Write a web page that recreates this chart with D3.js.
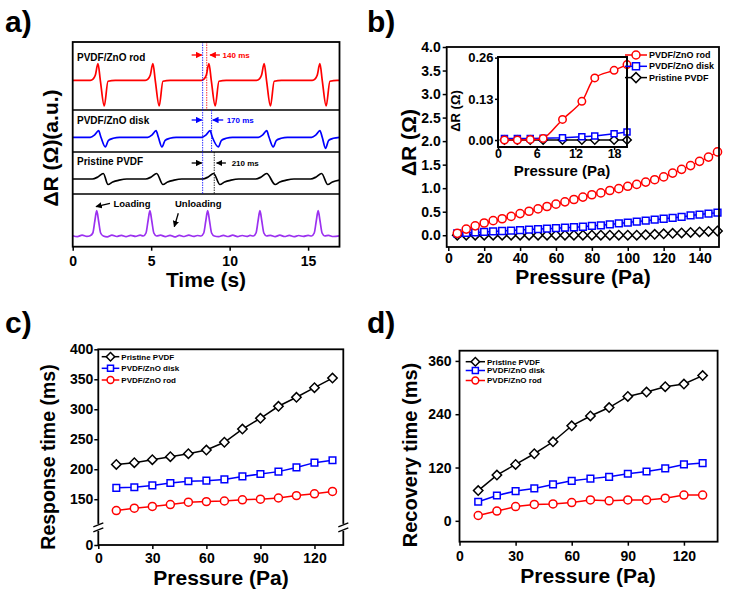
<!DOCTYPE html>
<html>
<head>
<meta charset="utf-8">
<script src="https://cdn.jsdelivr.net/npm/d3@7"></script>
<style>
  body { margin: 0; background: #fff; }
  svg { font-family: Arial, "Liberation Sans", sans-serif; font-weight: bold; }
</style>
</head>
<body>
<div id="chart"></div>
<script>
// ---- DATA -------------------------------------------------------------
// a) time traces, [time (s), signal (a.u.)]
const timeTicks = [0, 5, 10, 15];
const rodTrace = [[0,0],[1.12,0],[1.31,1.5],[1.44,5],[1.61,16.6],[1.76,0],[2.01,-25.7],[2.25,-1],[2.71,0],
  [4.62,0],[4.81,1.5],[4.94,5],[5.11,16.6],[5.26,0],[5.51,-25.7],[5.75,-1],[6.21,0],
  [8.19,0],[8.38,1.5],[8.51,5],[8.68,16.6],[8.83,0],[9.08,-25.7],[9.32,-1],[9.78,0],
  [11.71,0],[11.9,1.5],[12.03,5],[12.2,16.6],[12.35,0],[12.6,-25.7],[12.84,-1],[13.3,0],
  [15.26,0],[15.45,1.5],[15.58,5],[15.75,16.6],[15.9,0],[16.15,-25.7],[16.39,-1],[16.85,0],[17,0]];
const diskTrace = [[0,0],[1.12,0],[1.4,2.5],[1.65,6.6],[1.8,0],[2.08,-9.7],[2.28,-3],[2.58,-1],[2.98,0],
  [4.78,0],[5.06,2.5],[5.31,6.6],[5.46,0],[5.69,-9.7],[5.89,-3],[6.19,-1],[6.59,0],
  [8.22,0],[8.5,2.5],[8.75,6.6],[8.9,0],[9.28,-9.7],[9.48,-3],[9.78,-1],[10.18,0],
  [11.83,0],[12.11,2.5],[12.36,6.6],[12.51,0],[12.78,-9.7],[12.98,-3],[13.28,-1],[13.68,0],
  [15.22,0],[15.5,2.5],[15.75,6.6],[15.9,0],[16.11,-11],[16.31,-3],[16.61,-1],[17,0]];
const pristineTrace = [[0,0],[1.25,0],[1.6,2],[1.95,5.5],[2.25,-5.5],[2.55,-3],[2.95,-1.2],[3.45,0],
  [4.65,0],[5.0,2],[5.35,5.5],[5.75,-5.5],[6.05,-3],[6.45,-1.2],[6.95,0],
  [8.28,0],[8.63,2],[8.98,5.5],[9.38,-5.5],[9.68,-3],[10.08,-1.2],[10.58,0],
  [11.66,0],[12.01,2],[12.36,5.5],[12.9,-5.5],[13.2,-3],[13.6,-1.2],[14.1,0],
  [15.16,0],[15.51,2],[15.86,5.5],[16.25,-5.5],[16.55,-3],[17,-1.2]];
const loadTrace = [[0,0.3],[0.3,-0.6],[0.6,0.8],[0.9,-0.4],[1.11,0.3],
  [1.28,3],[1.41,15],[1.53,25.3],[1.65,15],[1.78,3],[1.95,0],
  [2.2,-0.8],[2.5,0.9],[2.8,-0.5],[3.1,0.7],[3.4,-0.7],[3.7,0.6],[4.0,-0.4],[4.3,0.8],[4.5,0],
  [4.67,3],[4.8,15],[4.92,25.3],[5.04,15],[5.17,3],[5.34,0],
  [5.6,0.8],[5.9,-0.6],[6.2,0.7],[6.5,-0.9],[6.8,0.6],[7.1,-0.5],[7.4,0.9],[7.7,-0.4],[7.95,0.5],[8.18,0],
  [8.35,3],[8.48,15],[8.6,25.3],[8.72,15],[8.85,3],[9.02,0],
  [9.3,-0.7],[9.6,0.6],[9.9,-0.5],[10.2,0.8],[10.5,-0.6],[10.8,0.5],[11.1,-0.4],[11.3,0.6],[11.51,0],
  [11.68,3],[11.81,15],[11.93,25.3],[12.05,15],[12.18,3],[12.35,0],
  [12.6,0.7],[12.9,-0.6],[13.2,0.8],[13.5,-0.5],[13.8,0.6],[14.1,-0.7],[14.4,0.5],[14.7,-0.4],[15.0,0.6],[15.22,0],
  [15.39,3],[15.52,15],[15.64,25.3],[15.76,15],[15.89,3],[16.06,0],
  [16.3,0.6],[16.6,-0.5],[17,0.2]];

// b) delta R vs pressure
const pressureB = [5,10,15,20,25,30,35,40,45,50,55,60,65,70,75,80,85,90,95,100,105,110,115,120,125,130,135,140,145,150];
const rodB = [0.04,0.13,0.2,0.26,0.31,0.35,0.4,0.46,0.51,0.56,0.61,0.66,0.71,0.76,0.81,0.86,0.9,0.95,0.99,1.04,1.08,1.13,1.18,1.24,1.32,1.4,1.48,1.57,1.66,1.77];
const diskB = [0.04,0.05,0.06,0.07,0.08,0.09,0.1,0.11,0.12,0.13,0.14,0.15,0.16,0.17,0.18,0.2,0.21,0.23,0.25,0.27,0.29,0.31,0.33,0.35,0.37,0.39,0.42,0.44,0.46,0.48];
const pristineB = [0,0,0,0,0,0,0,0,0,0,0,0,0,0,0,0,0,0,0,0,0,0.01,0.02,0.03,0.04,0.05,0.06,0.07,0.08,0.09];
const bYTicks = [0,0.5,1,1.5,2,2.5,3,3.5,4];
const bXTicks = [0,20,40,60,80,100,120,140];
const pressureInset = [1,3,5,7,10,13,15,18,20];
const rodInset = [0,0,0.002,0.005,0.065,0.122,0.196,0.22,0.238];
const diskInset = [0.005,0.005,0.005,0.006,0.007,0.01,0.013,0.02,0.025];
const pristineInset = [0,0,0,0,0,0,0,0,0];
const insetYTicks = [0,0.13,0.26];
const insetXTicks = [0,6,12,18];

// c) response time, d) recovery time
const pressureCD = [10,20,30,40,50,60,70,80,90,100,110,120,130];
const respPristine = [208,211,216,221,226,232,245,267,285,305,320,336,352];
const respDisk = [169,170,173,177,180,181,183,188,192,196,203,211,215];
const respRod = [131,135,138,141,145,146,147,149,150,152,156,159,163];
const recPristine = [68,103,127,151,178,214,236,255,280,290,302,308,327];
const recDisk = [43,57,67,73,82,90,95,99,106,111,118,127,130];
const recRod = [12,22,32,37,38,41,47,45,47,47,51,58,58];
const cdXTicks = [0,30,60,90,120];
const cYTicks = [0,150,200,250,300,350,400];
const dYTicks = [0,120,240,360];

const RED = '#ff0000', BLUE = '#0000ff', BLACK = '#000000', PURPLE = '#9b30f0';

// ---- HELPERS ----------------------------------------------------------
const svg = d3.select('#chart').append('svg').attr('width', 735).attr('height', 597);
svg.append('rect').attr('width', 735).attr('height', 597).attr('fill', '#fff');

const defs = svg.append('defs');
[['red', RED], ['blue', BLUE], ['black', BLACK]].forEach(([id, c]) => {
  defs.append('marker').attr('id', 'ah-' + id).attr('viewBox', '0 0 10 10')
    .attr('refX', 9).attr('refY', 5).attr('markerWidth', 5).attr('markerHeight', 5)
    .attr('orient', 'auto')
    .append('path').attr('d', 'M0,0L10,5L0,10z').attr('fill', c);
});

function frame(x0, y0, x1, y1, fill) {
  svg.append('rect').attr('x', x0).attr('y', y0).attr('width', x1 - x0).attr('height', y1 - y0)
    .attr('fill', fill || 'none').attr('stroke', '#000').attr('stroke-width', 1.8);
}

function text(x, y, s, size, opts = {}) {
  const t = svg.append('text').attr('x', x).attr('y', y).attr('font-size', size)
    .attr('fill', opts.color || '#000').attr('text-anchor', opts.anchor || 'start').text(s);
  if (opts.rotate) t.attr('transform', `rotate(-90,${x},${y})`).attr('dy', '0.35em');
  return t;
}

function styleAxis(g, size) {
  g.attr('font-family', null).attr('font-size', null);
  g.select('.domain').remove();
  g.selectAll('text').attr('font-size', size).attr('fill', '#000');
  g.selectAll('line').attr('stroke-width', 1.5);
}

function series(g, x, y, xs, ys, color, shape, opts = {}) {
  const pts = xs.map((v, i) => [x(v), y(ys[i])]);
  g.append('path').attr('d', d3.line().curve(opts.curve || d3.curveLinear)(pts))
    .attr('fill', 'none').attr('stroke', color).attr('stroke-width', 1.5);
  g.selectAll(null).data(pts).join('path')
    .attr('transform', d => `translate(${d[0]},${d[1]})` + (shape === 'diamond' ? ' rotate(45)' : ''))
    .attr('d', d3.symbol(shape === 'circle' ? d3.symbolCircle : d3.symbolSquare, opts.size || 50)())
    .attr('fill', '#fff').attr('stroke', color).attr('stroke-width', 1.5);
}

function legend(x0, x1, y, color, shape, label, size) {
  const mid = (x0 + x1) / 2;
  svg.append('line').attr('x1', x0).attr('x2', x1).attr('y1', y).attr('y2', y)
    .attr('stroke', color).attr('stroke-width', 1.5);
  svg.append('path')
    .attr('transform', `translate(${mid},${y})` + (shape === 'diamond' ? ' rotate(45)' : ''))
    .attr('d', d3.symbol(shape === 'circle' ? d3.symbolCircle : d3.symbolSquare, size > 8.5 ? 50 : 36)())
    .attr('fill', '#fff').attr('stroke', color).attr('stroke-width', 1.5);
  text(x1 + 2, y + size * 0.35, label, size);
}

// ---- PANEL A ----------------------------------------------------------
const xA = d3.scaleLinear().domain([0, 17]).range([72.7, 339.5]);
const lanes = [
  { data: rodTrace, color: RED, dom: [-29.7, 38.3], top: 42, bottom: 110 },
  { data: diskTrace, color: BLUE, dom: [-14.7, 27.3], top: 110, bottom: 152 },
  { data: pristineTrace, color: BLACK, dom: [-15, 27], top: 152, bottom: 194 },
  { data: loadTrace, color: PURPLE, dom: [-10.7, 42], top: 194, bottom: 246.7 },
];
const gA = svg.append('g');
lanes.forEach(l => {
  const y = d3.scaleLinear().domain(l.dom).range([l.bottom, l.top]);
  gA.append('path')
    .attr('d', d3.line().x(d => xA(d[0])).y(d => y(d[1])).curve(d3.curveMonotoneX)(l.data))
    .attr('fill', 'none').attr('stroke', l.color).attr('stroke-width', 1.7);
});
[110, 152, 194].forEach(yy => gA.append('line').attr('x1', xA(0)).attr('x2', xA(17))
  .attr('y1', yy).attr('y2', yy).attr('stroke', '#000').attr('stroke-width', 1.5));

// dotted timing guides
const guides = [
  { t: 8.28, y0: 42, y1: 194, c: BLUE },
  { t: 8.54, y0: 42, y1: 110, c: RED },
  { t: 8.85, y0: 110, y1: 152, c: BLUE },
  { t: 9.02, y0: 152, y1: 194, c: BLACK },
];
guides.forEach(g => gA.append('line').attr('x1', xA(g.t)).attr('x2', xA(g.t))
  .attr('y1', g.y0).attr('y2', g.y1).attr('stroke', g.c).attr('stroke-width', 1)
  .attr('stroke-dasharray', '1.5,1').attr('opacity', 0.8));

function arrow(x1, y1, x2, y2, id, color) {
  svg.append('line').attr('x1', x1).attr('y1', y1).attr('x2', x2).attr('y2', y2)
    .attr('stroke', color).attr('stroke-width', 1.3).attr('marker-end', `url(#ah-${id})`);
}
const timing = [
  { y: 55, left: 9.38, right: 8.75, tx: 9.55, label: '140 ms', id: 'red', c: RED },
  { y: 120, left: 9.59, right: 8.92, tx: 9.81, label: '170 ms', id: 'blue', c: BLUE },
  { y: 163, left: 9.76, right: 9.17, tx: 10.13, label: '210 ms', id: 'black', c: BLACK },
];
timing.forEach(m => {
  arrow(xA(7.58), m.y, xA(8.22), m.y, m.id, m.c);
  arrow(xA(m.left), m.y, xA(m.right), m.y, m.id, m.c);
  text(xA(m.tx), m.y + 3, m.label, 8, { color: m.c });
});

text(77, 60.5, 'PVDF/ZnO rod', 10);
text(77, 123.5, 'PVDF/ZnO disk', 10);
text(77, 165, 'Pristine PVDF', 10);
text(113.5, 206.5, 'Loading', 9.5);
text(175, 206.5, 'Unloading', 9.5);
arrow(110, 203.3, 96, 206.7, 'black', BLACK);
arrow(178.3, 213.3, 174.3, 226.7, 'black', BLACK);

frame(72.7, 42, 339.5, 246.7);
svg.append('g').attr('transform', 'translate(0,246.7)')
  .call(d3.axisBottom(xA).tickValues(timeTicks).tickSize(4).tickPadding(5.5))
  .call(g => styleAxis(g, 14));
text(206, 287, 'Time (s)', 21, { anchor: 'middle' });
text(51, 148, 'ΔR (Ω)(a.u.)', 21, { anchor: 'middle', rotate: true });
text(5, 32, 'a)', 30);

// ---- PANEL B ----------------------------------------------------------
const xB = d3.scaleLinear().domain([0, 150]).range([448.3, 717.5]);
const yB = d3.scaleLinear().domain([-0.25, 4.0]).range([247, 47]);
const gB = svg.append('g');
series(gB, xB, yB, pressureB, pristineB, BLACK, 'diamond', { size: 44 });
series(gB, xB, yB, pressureB, diskB, BLUE, 'square', { size: 46 });
series(gB, xB, yB, pressureB, rodB, RED, 'circle', { size: 52 });
frame(446.7, 47, 719, 247);
svg.append('g').attr('transform', 'translate(0,247)')
  .call(d3.axisBottom(xB).tickValues(bXTicks).tickSize(4).tickPadding(2))
  .call(g => styleAxis(g, 14));
svg.append('g').attr('transform', 'translate(446.7,0)')
  .call(d3.axisLeft(yB).tickValues(bYTicks).tickFormat(d3.format('.1f')).tickSize(4).tickPadding(2))
  .call(g => styleAxis(g, 14));
text(583, 283.5, 'Pressure (Pa)', 21, { anchor: 'middle' });
text(409, 142.5, 'ΔR (Ω)', 21, { anchor: 'middle', rotate: true });
text(367, 32, 'b)', 30);

// inset
const xI = d3.scaleLinear().domain([0, 20]).range([498, 627]);
const yI = d3.scaleLinear().domain([-0.022, 0.262]).range([147, 57]);
frame(498, 57, 627, 147, '#fff');
const gI = svg.append('g');
series(gI, xI, yI, pressureInset, pristineInset, BLACK, 'diamond', { size: 36 });
series(gI, xI, yI, pressureInset, diskInset, BLUE, 'square', { size: 36 });
series(gI, xI, yI, pressureInset, rodInset, RED, 'circle', { size: 44, curve: d3.curveCatmullRom.alpha(0.5) });
frame(498, 57, 627, 147);
svg.append('g').attr('transform', 'translate(0,147)')
  .call(d3.axisBottom(xI).tickValues(insetXTicks).tickSize(3).tickPadding(-0.5))
  .call(g => styleAxis(g, 12.5));
svg.append('g').attr('transform', 'translate(498,0)')
  .call(d3.axisLeft(yI).tickValues(insetYTicks).tickFormat(d3.format('.2f')).tickSize(3).tickPadding(1.5))
  .call(g => styleAxis(g, 13));
text(562, 175.5, 'Pressure (Pa)', 15, { anchor: 'middle' });
text(455, 111, 'ΔR (Ω)', 13, { anchor: 'middle', rotate: true });

legend(625, 647, 55, RED, 'circle', 'PVDF/ZnO rod', 9);
legend(625, 647, 66.3, BLUE, 'square', 'PVDF/ZnO disk', 9);
legend(625, 647, 77.6, BLACK, 'diamond', 'Pristine PVDF', 9);

// ---- PANEL C ----------------------------------------------------------
const xC = d3.scaleLinear().domain([0, 136]).range([98.3, 343.3]);
const yC = d3.scaleLinear().domain([0, 103, 400]).range([545, 527.4, 349.3]);
const gC = svg.append('g');
series(gC, xC, yC, pressureCD, respPristine, BLACK, 'diamond', { size: 44 });
series(gC, xC, yC, pressureCD, respDisk, BLUE, 'square', { size: 44 });
series(gC, xC, yC, pressureCD, respRod, RED, 'circle', { size: 50 });
frame(98.3, 349.3, 343.3, 545);
svg.append('g').attr('transform', 'translate(0,545)')
  .call(d3.axisBottom(xC).tickValues(cdXTicks).tickSize(4).tickPadding(4))
  .call(g => styleAxis(g, 14));
svg.append('g').attr('transform', 'translate(98.3,0)')
  .call(d3.axisLeft(yC).tickValues(cYTicks).tickSize(4).tickPadding(1))
  .call(g => styleAxis(g, 14));
// axis break marks
[98.3, 343.3].forEach(xx => {
  svg.append('rect').attr('x', xx - 3).attr('y', yC(103) - 3.5).attr('width', 6).attr('height', 7).attr('fill', '#fff');
  [-2.5, 2.5].forEach(o => svg.append('line')
    .attr('x1', xx - 5).attr('y1', yC(103) + o + 2).attr('x2', xx + 5).attr('y2', yC(103) + o - 2)
    .attr('stroke', '#000').attr('stroke-width', 1.4));
});
text(221, 585, 'Pressure (Pa)', 21, { anchor: 'middle' });
text(48, 457, 'Response time (ms)', 19.5, { anchor: 'middle', rotate: true });
text(5, 333, 'c)', 30);
legend(101.7, 119.3, 356.7, BLACK, 'diamond', 'Pristine PVDF', 8);
legend(101.7, 119.3, 368.3, BLUE, 'square', 'PVDF/ZnO disk', 8);
legend(101.7, 119.3, 380, RED, 'circle', 'PVDF/ZnO rod', 8);

// ---- PANEL D ----------------------------------------------------------
const xD = d3.scaleLinear().domain([0, 138]).range([459.5, 717.6]);
const yD = d3.scaleLinear().domain([-47, 383]).range([541.7, 350.7]);
const gD = svg.append('g');
series(gD, xD, yD, pressureCD, recPristine, BLACK, 'diamond', { size: 44 });
series(gD, xD, yD, pressureCD, recDisk, BLUE, 'square', { size: 44 });
series(gD, xD, yD, pressureCD, recRod, RED, 'circle', { size: 50 });
frame(459.5, 350.7, 717.6, 541.7);
svg.append('g').attr('transform', 'translate(0,541.7)')
  .call(d3.axisBottom(xD).tickValues(cdXTicks).tickSize(4).tickPadding(5.4))
  .call(g => styleAxis(g, 14));
svg.append('g').attr('transform', 'translate(459.5,0)')
  .call(d3.axisLeft(yD).tickValues(dYTicks).tickSize(4).tickPadding(4))
  .call(g => styleAxis(g, 14));
text(588, 583, 'Pressure (Pa)', 21, { anchor: 'middle' });
text(410, 455, 'Recovery time (ms)', 20, { anchor: 'middle', rotate: true });
text(367, 333, 'd)', 30);
legend(465.7, 485, 361.7, BLACK, 'diamond', 'Pristine PVDF', 8);
legend(465.7, 485, 370.5, BLUE, 'square', 'PVDF/ZnO disk', 8);
legend(465.7, 485, 380.5, RED, 'circle', 'PVDF/ZnO rod', 8);
</script>
</body>
</html>
